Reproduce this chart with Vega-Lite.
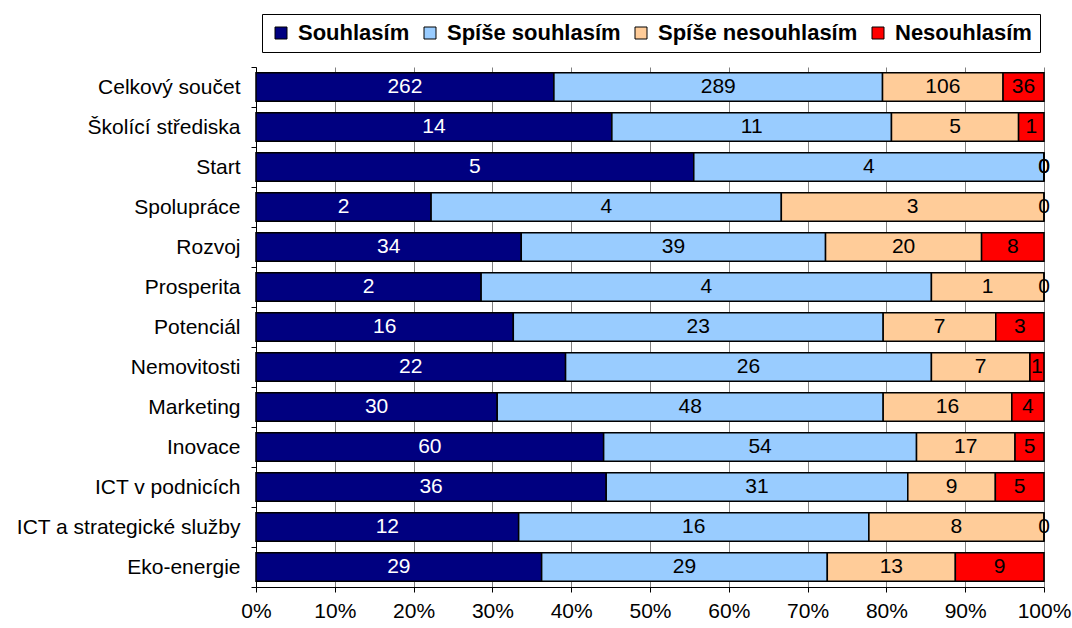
{
  "$schema": "https://vega.github.io/schema/vega-lite/v6.json",
  "autosize": {"type": "none"},
  "padding": {"left": 256, "top": 67, "right": 28, "bottom": 41},
  "width": 788,
  "height": 520,
  "background": "white",
  "config": {
    "view": {"stroke": null},
    "font": "Liberation Sans"
  },
  "data": {
    "values": [
      {"category": "Celkový součet", "response": "Souhlasím", "rank": 1, "count": 262},
      {"category": "Celkový součet", "response": "Spíše souhlasím", "rank": 2, "count": 289},
      {"category": "Celkový součet", "response": "Spíše nesouhlasím", "rank": 3, "count": 106},
      {"category": "Celkový součet", "response": "Nesouhlasím", "rank": 4, "count": 36},
      {"category": "Školící střediska", "response": "Souhlasím", "rank": 1, "count": 14},
      {"category": "Školící střediska", "response": "Spíše souhlasím", "rank": 2, "count": 11},
      {"category": "Školící střediska", "response": "Spíše nesouhlasím", "rank": 3, "count": 5},
      {"category": "Školící střediska", "response": "Nesouhlasím", "rank": 4, "count": 1},
      {"category": "Start", "response": "Souhlasím", "rank": 1, "count": 5},
      {"category": "Start", "response": "Spíše souhlasím", "rank": 2, "count": 4},
      {"category": "Start", "response": "Spíše nesouhlasím", "rank": 3, "count": 0},
      {"category": "Start", "response": "Nesouhlasím", "rank": 4, "count": 0},
      {"category": "Spolupráce", "response": "Souhlasím", "rank": 1, "count": 2},
      {"category": "Spolupráce", "response": "Spíše souhlasím", "rank": 2, "count": 4},
      {"category": "Spolupráce", "response": "Spíše nesouhlasím", "rank": 3, "count": 3},
      {"category": "Spolupráce", "response": "Nesouhlasím", "rank": 4, "count": 0},
      {"category": "Rozvoj", "response": "Souhlasím", "rank": 1, "count": 34},
      {"category": "Rozvoj", "response": "Spíše souhlasím", "rank": 2, "count": 39},
      {"category": "Rozvoj", "response": "Spíše nesouhlasím", "rank": 3, "count": 20},
      {"category": "Rozvoj", "response": "Nesouhlasím", "rank": 4, "count": 8},
      {"category": "Prosperita", "response": "Souhlasím", "rank": 1, "count": 2},
      {"category": "Prosperita", "response": "Spíše souhlasím", "rank": 2, "count": 4},
      {"category": "Prosperita", "response": "Spíše nesouhlasím", "rank": 3, "count": 1},
      {"category": "Prosperita", "response": "Nesouhlasím", "rank": 4, "count": 0},
      {"category": "Potenciál", "response": "Souhlasím", "rank": 1, "count": 16},
      {"category": "Potenciál", "response": "Spíše souhlasím", "rank": 2, "count": 23},
      {"category": "Potenciál", "response": "Spíše nesouhlasím", "rank": 3, "count": 7},
      {"category": "Potenciál", "response": "Nesouhlasím", "rank": 4, "count": 3},
      {"category": "Nemovitosti", "response": "Souhlasím", "rank": 1, "count": 22},
      {"category": "Nemovitosti", "response": "Spíše souhlasím", "rank": 2, "count": 26},
      {"category": "Nemovitosti", "response": "Spíše nesouhlasím", "rank": 3, "count": 7},
      {"category": "Nemovitosti", "response": "Nesouhlasím", "rank": 4, "count": 1},
      {"category": "Marketing", "response": "Souhlasím", "rank": 1, "count": 30},
      {"category": "Marketing", "response": "Spíše souhlasím", "rank": 2, "count": 48},
      {"category": "Marketing", "response": "Spíše nesouhlasím", "rank": 3, "count": 16},
      {"category": "Marketing", "response": "Nesouhlasím", "rank": 4, "count": 4},
      {"category": "Inovace", "response": "Souhlasím", "rank": 1, "count": 60},
      {"category": "Inovace", "response": "Spíše souhlasím", "rank": 2, "count": 54},
      {"category": "Inovace", "response": "Spíše nesouhlasím", "rank": 3, "count": 17},
      {"category": "Inovace", "response": "Nesouhlasím", "rank": 4, "count": 5},
      {"category": "ICT v podnicích", "response": "Souhlasím", "rank": 1, "count": 36},
      {"category": "ICT v podnicích", "response": "Spíše souhlasím", "rank": 2, "count": 31},
      {"category": "ICT v podnicích", "response": "Spíše nesouhlasím", "rank": 3, "count": 9},
      {"category": "ICT v podnicích", "response": "Nesouhlasím", "rank": 4, "count": 5},
      {"category": "ICT a strategické služby", "response": "Souhlasím", "rank": 1, "count": 12},
      {"category": "ICT a strategické služby", "response": "Spíše souhlasím", "rank": 2, "count": 16},
      {"category": "ICT a strategické služby", "response": "Spíše nesouhlasím", "rank": 3, "count": 8},
      {"category": "ICT a strategické služby", "response": "Nesouhlasím", "rank": 4, "count": 0},
      {"category": "Eko-energie", "response": "Souhlasím", "rank": 1, "count": 29},
      {"category": "Eko-energie", "response": "Spíše souhlasím", "rank": 2, "count": 29},
      {"category": "Eko-energie", "response": "Spíše nesouhlasím", "rank": 3, "count": 13},
      {"category": "Eko-energie", "response": "Nesouhlasím", "rank": 4, "count": 9}
    ]
  },
  "encoding": {
    "y": {
      "field": "category",
      "type": "nominal",
      "sort": ["Celkový součet", "Školící střediska", "Start", "Spolupráce", "Rozvoj", "Prosperita", "Potenciál", "Nemovitosti", "Marketing", "Inovace", "ICT v podnicích", "ICT a strategické služby", "Eko-energie"],
      "scale": {"paddingInner": 0, "paddingOuter": 0},
      "axis": {
        "title": null,
        "domainColor": "black",
        "tickColor": "black",
        "tickSize": 5,
        "tickBand": "extent",
        "labelFont": "Liberation Sans",
        "labelFontSize": 21,
        "labelColor": "black",
        "labelPadding": 11,
        "labelLimit": 300
      }
    },
    "x": {
      "field": "count",
      "type": "quantitative",
      "stack": "normalize",
      "axis": {
        "title": null,
        "format": ".0%",
        "values": [0, 0.1, 0.2, 0.3, 0.4, 0.5, 0.6, 0.7, 0.8, 0.9, 1],
        "grid": true,
        "gridColor": "#808080",
        "gridOpacity": 1,
        "domainColor": "black",
        "tickColor": "black",
        "tickSize": 5,
        "labelFont": "Liberation Sans",
        "labelFontSize": 21,
        "labelColor": "black",
        "labelPadding": 8,
        "labelFlush": false
      }
    },
    "order": {"field": "rank", "type": "quantitative"}
  },
  "layer": [
    {
      "mark": {"type": "bar", "height": {"band": 0.71}, "stroke": "black", "strokeWidth": 1.5},
      "encoding": {
        "color": {
          "field": "response",
          "type": "nominal",
          "sort": ["Souhlasím", "Spíše souhlasím", "Spíše nesouhlasím", "Nesouhlasím"],
          "scale": {
            "domain": ["Souhlasím", "Spíše souhlasím", "Spíše nesouhlasím", "Nesouhlasím"],
            "range": ["#000080", "#99CCFF", "#FFCC99", "#FF0000"]
          },
          "legend": {
            "title": null,
            "orient": "none",
            "direction": "horizontal",
            "columns": 4,
            "gridAlign": "none",
            "legendX": 6,
            "legendY": -53,
            "strokeColor": "black",
            "fillColor": "white",
            "padding": 8,
            "symbolType": "square",
            "symbolSize": 144,
            "symbolStrokeColor": "black",
            "symbolStrokeWidth": 1,
            "symbolOpacity": 1,
            "labelFont": "Liberation Sans",
            "labelFontSize": 22,
            "labelFontWeight": "bold",
            "labelColor": "black",
            "labelOffset": 6,
            "columnPadding": 9,
            "labelLimit": 400
          }
        }
      }
    },
    {
      "mark": {"type": "text", "font": "Liberation Sans", "fontSize": 21, "baseline": "middle", "align": "center"},
      "encoding": {
        "x": {"field": "count", "type": "quantitative", "stack": "normalize", "bandPosition": 0.5},
        "text": {"field": "count", "type": "quantitative"},
        "color": {
          "condition": {"test": "datum.response === 'Souhlasím'", "value": "white"},
          "value": "black"
        }
      }
    }
  ]
}
